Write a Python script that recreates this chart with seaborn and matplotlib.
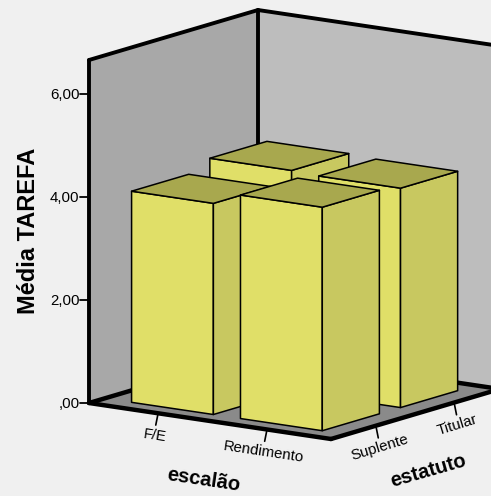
import numpy as np
import pandas as pd
import matplotlib
matplotlib.use("Agg")
import matplotlib.pyplot as plt
from matplotlib.patches import Polygon
import seaborn as sns

# values
escalao = ["F/E", "Rendimento"]
estatuto = ["Suplente", "Titular"]
media_fe = [4.10, 4.29]
media_rend = [4.34, 4.26]
y_ticks = [0, 2, 4, 6]
y_labels = [",00", "2,00", "4,00", "6,00"]

df = pd.DataFrame({
    "escalao": [0, 0, 1, 1],
    "estatuto": [0, 1, 0, 1],
    "media": media_fe + media_rend,
})

# oblique projection of the 3D box onto the image (pixels)
ORIGIN = np.array([89.0, 403.0])
E_X = np.array([242.0, 36.0])
E_Z = np.array([169.0, -50.0])
PX_PER_UNIT = 51.5
Y_TOP = 6.66
X_CENTRES = [0.280, 0.730]
Z_CENTRES = [0.262, 0.725]
BAR_W = 0.338
BAR_D = 0.338

BG = "#f0f0f0"
LEFT_WALL = "#a8a8a8"
RIGHT_WALL = "#bdbdbd"
FLOOR = "#8a8a8a"
FRONT = "#e0df68"
SIDE = "#c8c860"
TOP = "#a8a84e"


def proj(a, b, v=0.0):
    p = ORIGIN + a * E_X + b * E_Z
    return (p[0], p[1] - v * PX_PER_UNIT)


def face(ax, pts, color, lw=1.1, zorder=3):
    ax.add_patch(Polygon(pts, closed=True, facecolor=color, edgecolor="black",
                         linewidth=lw, joinstyle="round", zorder=zorder))


sns.set_theme(style="white")
plt.rcParams["font.family"] = ["Liberation Sans", "DejaVu Sans"]
plt.rcParams["text.color"] = "black"

fig = plt.figure(figsize=(4.91, 4.96), dpi=100, facecolor=BG)
ax = fig.add_axes([0, 0, 1, 1])
ax.set_xlim(0, 491)
ax.set_ylim(496, 0)
ax.axis("off")

# walls and floor
face(ax, [proj(0, 0), proj(0, 1), proj(0, 1, Y_TOP), proj(0, 0, Y_TOP)], LEFT_WALL, 0, 1)
face(ax, [proj(0, 1), proj(1, 1), proj(1, 1, Y_TOP), proj(0, 1, Y_TOP)], RIGHT_WALL, 0, 1)
face(ax, [proj(0, 0), proj(1, 0), proj(1, 1), proj(0, 1)], FLOOR, 0, 1)

for p, q in [((0, 0), (0, 1)), ((0, 1), (1, 1)), ((0, 0), (1, 0)), ((1, 0), (1, 1))]:
    ax.plot(*zip(proj(*p), proj(*q)), color="black", lw=3.2, solid_capstyle="round", zorder=2)
for p, q in [((0, 0, 0), (0, 0, Y_TOP)), ((0, 1, 0), (0, 1, Y_TOP)),
             ((0, 0, Y_TOP), (0, 1, Y_TOP)), ((0, 1, Y_TOP), (1, 1, Y_TOP))]:
    ax.plot(*zip(proj(*p), proj(*q)), color="black", lw=2.8, solid_capstyle="round", zorder=2)

# bars, back row first
for _, row in df.sort_values(["estatuto", "escalao"], ascending=[False, True]).iterrows():
    a0 = X_CENTRES[int(row["escalao"])] - BAR_W / 2
    b0 = Z_CENTRES[int(row["estatuto"])] - BAR_D / 2
    a1, b1, h = a0 + BAR_W, b0 + BAR_D, row["media"]
    face(ax, [proj(a0, b0), proj(a1, b0), proj(a1, b0, h), proj(a0, b0, h)], FRONT)
    face(ax, [proj(a1, b0), proj(a1, b1), proj(a1, b1, h), proj(a1, b0, h)], SIDE)
    face(ax, [proj(a0, b0, h), proj(a1, b0, h), proj(a1, b1, h), proj(a0, b1, h)], TOP)

# value axis
for v, lab in zip(y_ticks, y_labels):
    x, y = proj(0, 0, v)
    ax.plot([x - 9, x], [y, y], color="black", lw=1.3, zorder=2)
    ax.text(x - 9.5, y + 1, lab, ha="right", va="center", fontsize=10.8)

# category axes
for a, lab in zip(X_CENTRES, escalao):
    x, y = proj(a, 0)
    ax.plot([x + 1, x - 1], [y + 2, y + 12], color="black", lw=1.2, zorder=1)
    ax.text(x - 2, y + 23, lab, ha="center", va="center", rotation=-8.5,
            rotation_mode="anchor", fontsize=10.8)
for b, lab in zip(Z_CENTRES, estatuto):
    x, y = proj(1, b)
    ax.plot([x + 1, x + 3], [y + 2, y + 12], color="black", lw=1.2, zorder=1)
    ax.text(x + 4, y + 22, lab, ha="center", va="center", rotation=17,
            rotation_mode="anchor", fontsize=10.8)

ax.text(29, 231, "Média TAREFA", rotation=90, ha="center", va="center",
        fontsize=17, fontweight="bold")
ax.text(204, 480, "escalão", rotation=-8.5, rotation_mode="anchor", ha="center", va="center",
        fontsize=14.5, fontweight="bold")
ax.text(428, 471, "estatuto", rotation=16, rotation_mode="anchor", ha="center", va="center",
        fontsize=14.5, fontweight="bold")

fig.savefig("out.png", dpi=100, facecolor=BG)
